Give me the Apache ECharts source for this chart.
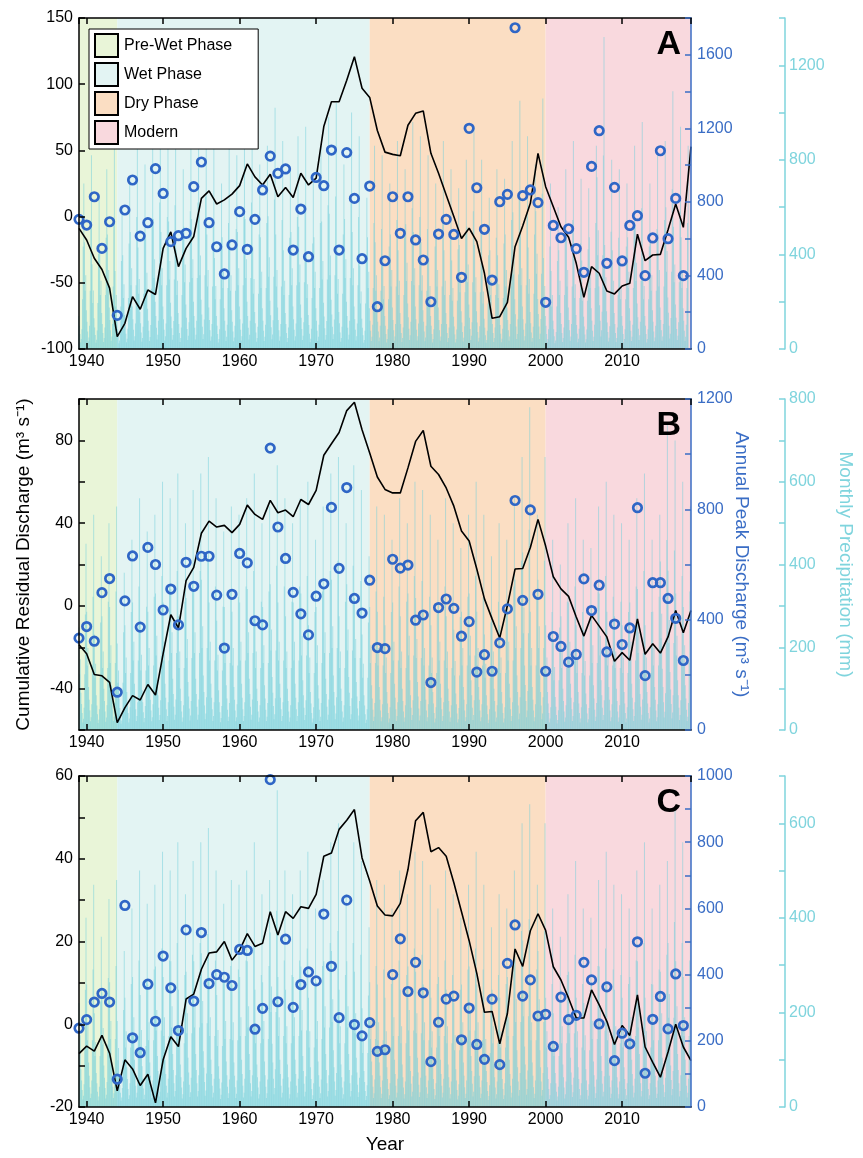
<!DOCTYPE html>
<html>
<head>
<meta charset="utf-8">
<script src="https://cdn.jsdelivr.net/npm/echarts@6/dist/echarts.min.js"></script>
<style>
  html, body { margin: 0; padding: 0; background: #fff; }
  #chart { width: 863px; height: 1158px; }
</style>
</head>
<body>
<div id="chart"></div>
<script>
// years of annual peaks and cumulative residual discharge
var peakYears = [];
for (var y = 1939; y <= 2018; y++) peakYears.push(y);
var cumYears = peakYears.concat([2019]);

// phases
var phaseNames = ['Pre-Wet Phase', 'Wet Phase', 'Dry Phase', 'Modern'];
var phaseStart = [1939, 1944, 1977, 2000];
var phaseEnd = [1944, 1977, 2000, 2019];
var phaseColors = ['#e9f5d8', '#e3f4f3', '#fbdec3', '#f9d9de'];

// panel A
var cumA = [-8.9,-17.7,-31.5,-40,-54,-90.7,-80.6,-60.5,-70,-55.4,-58.8,
  -24,-11.6,-37.8,-24,-15,13.8,19.4,9.5,12.6,17,
  23.4,39.8,30,23.9,32,15,21.9,14.4,32.7,23.9,
  29,68,86.8,86.8,103,120.8,96.9,90,65,48.7,
  47,46,69,78,79.8,47.8,32.7,16.3,0,-16.6,
  -8.8,-18.9,-42.8,-76.8,-75.6,-64.8,-22.7,-7.1,10,47.8,
  22.6,7.5,-7.6,-15.6,-35.3,-61,-37.8,-42.8,-56.2,-58.4,
  -52.4,-50.4,-13.3,-33.3,-29,-28.5,-10,9.5,-8.1,52.9];
var peakA = [705,674,828,547,692,183,756,919,614,687,981,
  846,584,616,629,883,1017,687,556,408,566,
  747,542,705,865,1049,955,979,538,761,502,
  933,888,1082,538,1068,819,491,886,230,480,
  828,629,828,593,484,257,625,705,623,390,
  1200,877,651,375,801,841,1747,834,865,796,
  254,672,605,654,546,417,993,1187,466,879,
  479,672,725,399,604,1078,600,819,399];
var rainPeakA = [700,820,650,760,880,600,720,900,780,850,1000,
  900,980,760,940,1000,1040,880,700,860,820,
  900,1000,780,860,1020,880,760,900,940,720,
  860,980,1040,780,1000,900,640,860,820,700,
  880,760,960,900,820,700,880,760,680,800,
  940,800,640,760,720,880,1050,900,780,1060,
  700,600,760,880,720,680,860,1320,800,760,
  700,860,960,700,820,880,1090,940,860];

// panel B
var cumB = [-18.8,-23.1,-33.2,-33.8,-37,-56.4,-49.2,-43.4,-45.5,-38,-43.1,
  -23.1,-4.3,-10.7,12.2,18.6,35.1,41,38.1,38.9,35.4,
  39.4,48.7,44.2,41.8,51,45,46.3,43.1,51.4,49,
  55.8,72.8,78.4,83.8,94.4,98.4,85.1,73.9,62.3,56.3,
  54.6,54.6,66.7,79.5,84.8,67.5,63.5,57,48.2,36.2,
  31.4,17.8,3.4,-6.3,-15.5,0.2,17.8,18.1,28.2,41.8,
  28.9,14.1,8.2,4.6,-5.4,-14.6,-4.6,-9.8,-15,-26.8,
  -22.6,-26.3,-6.3,-23.4,-18.3,-22.8,-15,-2.2,-13,-2.2];
var peakB = [333,375,322,498,549,137,468,631,373,662,600,
  435,511,381,608,521,630,630,489,297,492,
  640,606,396,381,1022,736,622,499,421,345,
  485,530,807,586,879,477,424,543,299,295,
  619,587,598,398,417,172,444,475,441,340,
  393,210,273,213,316,439,832,470,798,492,
  213,339,303,246,274,548,433,525,283,384,
  310,370,806,197,534,534,477,405,252];
var rainPeakB = [450,520,420,500,540,380,460,560,480,520,600,
  560,620,500,580,620,660,560,480,540,520,
  560,620,500,540,640,560,500,560,600,460,
  540,620,660,500,640,580,420,540,520,460,
  560,500,600,580,520,460,560,500,440,520,
  600,520,420,500,460,560,660,780,520,660,
  460,400,500,560,460,440,540,600,520,500,
  460,560,620,460,520,740,700,600,540];

// panel C
var cumC = [-7.1,-5.3,-6.5,-2.7,-7,-16.1,-8.6,-10.8,-14.8,-12.1,-19,
  -8.6,-3,-5.4,6.1,7.3,13.3,17.2,17.5,20,15.5,
  17.9,21.9,18.8,19.6,27.2,21.6,27.2,25.6,28.4,28,
  31.4,40.6,41.4,47.1,49.3,51.9,40.2,34.6,28.6,26.4,
  26.2,29.2,37.4,49.2,51.2,41.7,42.7,40.6,34.2,27.2,
  20.2,12.3,2.9,3.1,-4.7,2.6,18.2,14,22.6,26.7,
  22.7,13.9,10.7,6.3,1.5,1.5,8.3,4.7,0.7,-4.9,
  -0.3,-2.7,7.1,-5.5,-9.2,-12.8,-6.7,0,-5.5,-8.8];
var peakC = [238,264,317,343,317,84,609,209,164,371,259,
  456,360,231,535,320,527,373,400,392,367,
  476,473,235,298,989,318,507,301,370,408,
  381,583,425,270,625,249,215,255,168,173,
  400,508,349,437,345,137,256,326,335,203,
  299,189,144,326,128,434,550,335,384,275,
  280,183,332,264,277,437,384,251,363,140,
  223,191,499,102,265,334,236,402,246];
var rainPeakC = [400,470,360,440,480,330,420,500,430,470,540,
  500,560,450,520,560,590,500,430,480,470,
  500,560,450,480,670,500,450,500,540,420,
  480,560,600,450,560,520,380,480,470,420,
  500,450,540,520,470,420,500,450,400,470,
  540,470,380,450,420,500,600,640,470,600,
  420,360,450,520,420,400,480,540,470,450,
  420,500,560,420,470,520,630,560,500];

// share of the year's wettest month, Jan..Dec
var monthShare = [0.55,0.3,0.38,0.2,0.14,0.09,0.04,0.06,0.12,0.3,0.62,1.0];

// axis ranges per panel
var leftMin = [-100, -60, -20], leftMax = [150, 100, 60], leftStep = [50, 20, 10], leftLabelStep = [50, 40, 20];
var peakMax = [1800, 1200, 1000], peakStep = [200, 200, 100], peakLabelStep = [400, 400, 200];
var rainMax = [1400, 800, 700], rainStep = [200, 100, 100], rainLabelStep = [400, 200, 200];
var panelLetters = ['A', 'B', 'C'];

var cumAll = [cumA, cumB, cumC];
var peakAll = [peakA, peakB, peakC];
var rainAll = [rainPeakA, rainPeakB, rainPeakC];

var gridTops = [18, 399, 776];
var gridH = 331;
var FONT = 'Liberation Sans';
var BLUE = '#3a6dc5';
var DOT = '#2f66c6';
var CYAN = '#7fd4dd';

var chart = echarts.init(document.getElementById('chart'));

function stepLabel(step) {
    return function (v) { return Math.abs(v % step) < 1e-6 ? String(v) : ''; };
}

function monthly(peaks) {
    var out = [];
    peaks.forEach(function (p, i) {
        monthShare.forEach(function (s, m) {
            out.push([peakYears[i] + m / 12, Math.round(p * s)]);
        });
    });
    return out;
}

var grids = [], xAxes = [], yAxes = [], series = [], graphics = [];

for (var i = 0; i < 3; i++) {
    grids.push({left: 79, width: 612, top: gridTops[i], height: gridH});
    xAxes[i] = {
        type: 'value', gridIndex: i, min: 1939, max: 2019, splitNumber: 8, z: 10,
        axisLine: {onZero: false, lineStyle: {color: '#000', width: 1.5}},
        axisTick: {inside: true, length: 6, lineStyle: {color: '#000', width: 1.5}},
        axisLabel: {color: '#000', fontSize: 16, fontFamily: FONT, margin: 5,
                    showMinLabel: false, showMaxLabel: false,
                    formatter: function (v) { return String(v); }},
        splitLine: {show: false}
    };
    xAxes[3 + i] = {
        type: 'value', gridIndex: i, position: 'top', min: 1939, max: 2019, splitNumber: 8, z: 10,
        axisLine: {onZero: false, lineStyle: {color: '#000', width: 1.5}},
        axisTick: {inside: true, length: 6, lineStyle: {color: '#000', width: 1.5}},
        axisLabel: {show: false},
        splitLine: {show: false}
    };
    yAxes.push({
        type: 'value', gridIndex: i, min: leftMin[i], max: leftMax[i], interval: leftStep[i], z: 10,
        axisLine: {show: true, onZero: false, lineStyle: {color: '#000', width: 1.5}},
        axisTick: {show: true, inside: true, length: 6, lineStyle: {color: '#000', width: 1.5}},
        axisLabel: {color: '#000', fontSize: 16, fontFamily: FONT, margin: 6, formatter: stepLabel(leftLabelStep[i])},
        splitLine: {show: false},
        name: i === 1 ? 'Cumulative Residual Discharge (m³ s⁻¹)' : '',
        nameLocation: 'middle', nameGap: 46, nameRotate: 90, nameMoveOverlap: false,
        nameTextStyle: {color: '#000', fontSize: 19, fontFamily: FONT}
    });
    yAxes.push({
        type: 'value', gridIndex: i, position: 'right', min: 0, max: peakMax[i], interval: peakStep[i], z: 10,
        axisLine: {show: true, onZero: false, lineStyle: {color: BLUE, width: 1.5}},
        axisTick: {show: true, inside: true, length: 6, lineStyle: {color: BLUE, width: 1.5}},
        axisLabel: {color: BLUE, fontSize: 16, fontFamily: FONT, margin: 6, formatter: stepLabel(peakLabelStep[i])},
        splitLine: {show: false},
        name: i === 1 ? 'Annual Peak Discharge (m³ s⁻¹)' : '',
        nameLocation: 'middle', nameGap: 41, nameRotate: -90, nameMoveOverlap: false,
        nameTextStyle: {color: BLUE, fontSize: 19, fontFamily: FONT}
    });
    yAxes.push({
        type: 'value', gridIndex: i, position: 'right', offset: 94, min: 0, max: rainMax[i], interval: rainStep[i], z: 10,
        axisLine: {show: true, onZero: false, lineStyle: {color: CYAN, width: 1.5}},
        axisTick: {show: true, inside: true, length: 6, lineStyle: {color: CYAN, width: 1.5}},
        axisLabel: {color: CYAN, fontSize: 16, fontFamily: FONT, margin: 4, formatter: stepLabel(rainLabelStep[i])},
        splitLine: {show: false},
        name: i === 1 ? 'Monthly Precipitation (mm)' : '',
        nameLocation: 'middle', nameGap: 51, nameRotate: -90, nameMoveOverlap: false,
        nameTextStyle: {color: CYAN, fontSize: 19, fontFamily: FONT}
    });

    // phase backgrounds
    series.push({
        type: 'line', xAxisIndex: i, yAxisIndex: 3 * i, z: 1, silent: true,
        data: [[1939, leftMin[i]]], symbol: 'none', lineStyle: {opacity: 0},
        markArea: {
            silent: true,
            data: phaseNames.map(function (n, k) {
                return [{xAxis: phaseStart[k], itemStyle: {color: phaseColors[k], opacity: 1}}, {xAxis: phaseEnd[k]}];
            })
        }
    });
    // monthly precipitation
    series.push({
        type: 'bar', xAxisIndex: i, yAxisIndex: 3 * i + 2, z: 3, silent: true,
        barWidth: 1, data: monthly(rainAll[i]),
        itemStyle: {color: 'rgba(112, 208, 220, 0.5)'}
    });
    // cumulative residual discharge
    series.push({
        type: 'line', xAxisIndex: i, yAxisIndex: 3 * i, z: 5, silent: true,
        data: cumYears.map(function (yr, k) { return [yr, cumAll[i][k]]; }),
        symbol: 'none', lineStyle: {color: '#000', width: 1.6}
    });
    // annual peak discharge
    series.push({
        type: 'scatter', xAxisIndex: i, yAxisIndex: 3 * i + 1, z: 6, silent: true,
        data: peakYears.map(function (yr, k) { return [yr, peakAll[i][k]]; }),
        symbol: 'circle', symbolSize: 8.5,
        itemStyle: {color: 'rgba(0,0,0,0)', borderColor: DOT, borderWidth: 2.7, opacity: 1}
    });

    graphics.push({
        type: 'text', z: 100,
        style: {text: panelLetters[i], x: 681, y: gridTops[i] + 27, fill: '#000',
                font: 'bold 34px ' + FONT, textAlign: 'right', textVerticalAlign: 'middle'}
    });
}

xAxes[2].name = 'Year';
xAxes[2].nameLocation = 'middle';
xAxes[2].nameGap = 28;
xAxes[2].nameTextStyle = {color: '#000', fontSize: 19, fontFamily: FONT};

// legend entries
phaseNames.forEach(function (n, k) {
    series.push({
        name: n, type: 'bar', xAxisIndex: 0, yAxisIndex: 0, data: [],
        itemStyle: {color: phaseColors[k], borderColor: '#000', borderWidth: 1}
    });
});

option = {
    animation: false,
    grid: grids,
    xAxis: xAxes,
    yAxis: yAxes,
    legend: {
        data: phaseNames, orient: 'vertical', left: 89, top: 29, z: 20,
        icon: 'rect', itemWidth: 23, itemHeight: 23, itemGap: 4,
        backgroundColor: '#fff', borderColor: '#000', borderWidth: 1,
        padding: [4, 26, 4, 5], borderRadius: 0,
        textStyle: {color: '#000', fontSize: 16, fontFamily: FONT, padding: [0, 0, 0, 1]},
        selectedMode: false
    },
    graphic: graphics,
    series: series
};
chart.setOption(option);
</script>
</body>
</html>
